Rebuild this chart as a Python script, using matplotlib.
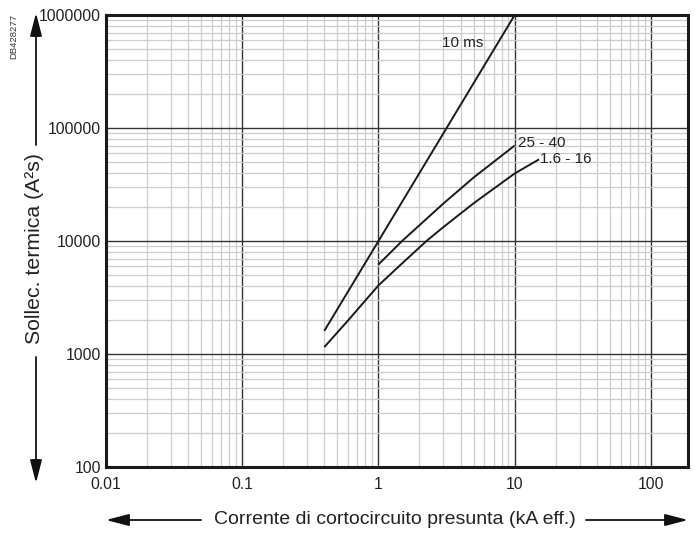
import matplotlib
matplotlib.use("Agg")
import matplotlib.pyplot as plt
from matplotlib.ticker import LogLocator, FixedLocator, FixedFormatter, NullFormatter

plt.rcParams['font.family'] = ['Liberation Sans', 'DejaVu Sans']

# ---- data ----
i_10ms = [0.4, 10]
e_10ms = [1600, 1000000]

i_2540 = [1.0, 1.49, 3.0, 5.0, 10.0]
e_2540 = [6200, 10000, 21500, 36500, 70000]

i_16 = [0.4, 0.6, 1.0, 1.5, 2.25, 3.0, 5.0, 10.0, 15.1]
e_16 = [1150, 1990, 4050, 6380, 10000, 13300, 21600, 39600, 52800]

curve_labels = ["10 ms", "25 - 40", "1.6 - 16"]

x_ticks = [0.01, 0.1, 1, 10, 100]
x_ticklabels = ["0.01", "0.1", "1", "10", "100"]
y_ticks = [100, 1000, 10000, 100000, 1000000]
y_ticklabels = ["100", "1000", "10000", "100000", "1000000"]

xlabel = "Corrente di cortocircuito presunta (kA eff.)"
ylabel = "Sollec. termica (A\u00b2s)"
code = "DB428277"

W, H = 695, 536
fig = plt.figure(figsize=(W / 100, H / 100), dpi=100)
ax = fig.add_axes([106 / W, (H - 467) / H, (688 - 106) / W, (467 - 15) / H])

ax.set_xscale('log')
ax.set_yscale('log')
ax.set_xlim(0.01, 187)
ax.set_ylim(100, 1000000)

ax.xaxis.set_major_locator(FixedLocator(x_ticks))
ax.xaxis.set_major_formatter(FixedFormatter(x_ticklabels))
ax.yaxis.set_major_locator(FixedLocator(y_ticks))
ax.yaxis.set_major_formatter(FixedFormatter(y_ticklabels))
ax.xaxis.set_minor_locator(LogLocator(base=10, subs=range(2, 10), numticks=20))
ax.yaxis.set_minor_locator(LogLocator(base=10, subs=range(2, 10), numticks=20))
ax.xaxis.set_minor_formatter(NullFormatter())
ax.yaxis.set_minor_formatter(NullFormatter())

ax.grid(which='minor', color='#cccccc', linewidth=0.9)
ax.grid(which='major', color='#333333', linewidth=1.0)
ax.set_axisbelow(True)
ax.tick_params(which='both', length=0)
ax.tick_params(axis='both', labelsize=11.3, colors='#222222')
ax.tick_params(axis='y', pad=3.5)
ax.tick_params(axis='x', pad=7)

for s in ax.spines.values():
    s.set_linewidth(2.2)
    s.set_color('#1a1a1a')

lc = '#1a1a1a'
ax.plot(i_10ms, e_10ms, color=lc, lw=1.4, solid_capstyle='butt', clip_on=False)
ax.plot(i_2540, e_2540, color=lc, lw=1.4, solid_capstyle='butt')
ax.plot(i_16, e_16, color=lc, lw=1.4, solid_capstyle='butt')

ax.text(2.95, 565000, curve_labels[0], fontsize=11, color='#222222', va='center', ha='left')
ax.text(10.5, 74000, curve_labels[1], fontsize=11, color='#222222', va='center', ha='left')
ax.text(15.4, 53000, curve_labels[2], fontsize=11, color='#222222', va='center', ha='left')

# axis labels with arrows
fig.text(35 / W, (H - 249) / H, ylabel, rotation=90, fontsize=15.3, color='#222222',
         ha='center', va='center')
fig.text(395 / W, (H - 519) / H, xlabel, fontsize=14, color='#222222',
         ha='center', va='center')
fig.text(14 / W, (H - 36) / H, code, rotation=90, fontsize=6.8, color='#333333',
         ha='center', va='center')

astyle = dict(arrowstyle='-|>,head_length=1.0,head_width=0.26', color='#111111',
              lw=1.3, shrinkA=0, shrinkB=0, mutation_scale=14)
ax.annotate('', xy=(36, H - 13), xytext=(36, H - 145), xycoords='figure pixels',
            textcoords='figure pixels', arrowprops=astyle, annotation_clip=False)
ax.annotate('', xy=(36, H - 483), xytext=(36, H - 357), xycoords='figure pixels',
            textcoords='figure pixels', arrowprops=astyle, annotation_clip=False)
ax.annotate('', xy=(106, H - 520), xytext=(201, H - 520), xycoords='figure pixels',
            textcoords='figure pixels', arrowprops=astyle, annotation_clip=False)
ax.annotate('', xy=(688, H - 520), xytext=(586, H - 520), xycoords='figure pixels',
            textcoords='figure pixels', arrowprops=astyle, annotation_clip=False)

fig.savefig('out.png', dpi=100)
